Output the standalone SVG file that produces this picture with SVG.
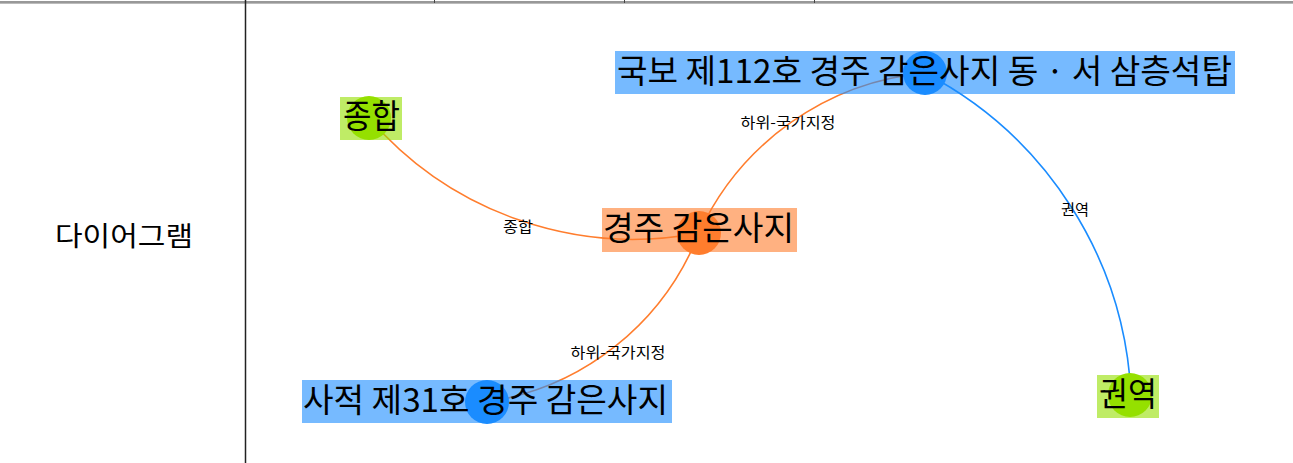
<svg xmlns="http://www.w3.org/2000/svg" width="1293" height="463" viewBox="0 0 1293 463">
<style>
.edge{fill:none;stroke-width:1.6}
.lbl{opacity:0.6}
.nt{font-family:"Noto Sans CJK KR","Noto Sans",sans-serif;font-size:33px;fill:#000}
.et{font-family:"Noto Sans CJK KR","Noto Sans",sans-serif;font-size:15px;fill:#000;text-anchor:middle}
.orange{fill:#ff7d2d}
.blue{fill:#1a8cff}
.green{fill:#95e000}
</style>
<rect x="0" y="0" width="1293" height="463" fill="#fff"/>
<g id="table">
<line x1="0" y1="2" x2="1293" y2="2" stroke="#333" stroke-width="1.2"/>
<line x1="0" y1="3.5" x2="1293" y2="3.5" stroke="#bbb" stroke-width="1"/>
<line x1="245.5" y1="0" x2="245.5" y2="463" stroke="#222" stroke-width="1.5"/>
<line x1="434.5" y1="0" x2="434.5" y2="3" stroke="#444" stroke-width="1"/>
<line x1="624.5" y1="0" x2="624.5" y2="3" stroke="#444" stroke-width="1"/>
<line x1="814.5" y1="0" x2="814.5" y2="3" stroke="#444" stroke-width="1"/>
<text x="124" y="246" font-family="Noto Sans CJK KR, sans-serif" font-size="27" text-anchor="middle" textLength="138" lengthAdjust="spacingAndGlyphs">다이어그램</text>
</g>
<g id="connectors">
<path class="edge" stroke="#ff7d2d" d="M699,233 A348.5,348.5 0 0,1 369,118"/>
<path class="edge" stroke="#ff7d2d" d="M699,233 A276.9,276.9 0 0,1 925,73"/>
<path class="edge" stroke="#ff7d2d" d="M699,233 A270.5,270.5 0 0,1 487,402"/>
<path class="edge" stroke="#1a8cff" d="M925,73 A383.5,383.5 0 0,1 1131,395"/>
<text class="et" x="518" y="232" textLength="30" lengthAdjust="spacingAndGlyphs">종합</text>
<text class="et" x="788" y="128" textLength="95" lengthAdjust="spacingAndGlyphs">하위-국가지정</text>
<text class="et" x="618" y="358" textLength="95" lengthAdjust="spacingAndGlyphs">하위-국가지정</text>
<text class="et" x="1075" y="215" textLength="28" lengthAdjust="spacingAndGlyphs">권역</text>
</g>
<g id="node-jonghap">
<rect class="lbl green" x="340" y="97" width="62" height="43"/>
<circle class="green" cx="369" cy="118" r="22"/>
<text class="nt" x="343" y="128" textLength="57" lengthAdjust="spacingAndGlyphs">종합</text>
</g>
<g id="node-gameunsaji">
<rect class="lbl orange" x="602" y="208" width="195" height="44"/>
<circle class="orange" cx="699" cy="233" r="22"/>
<text class="nt" x="603" y="240" textLength="191" lengthAdjust="spacingAndGlyphs">경주 감은사지</text>
</g>
<g id="node-gukbo">
<rect class="lbl blue" x="615" y="51" width="620" height="43"/>
<circle class="blue" cx="925" cy="73" r="22"/>
<text class="nt" x="617" y="83" textLength="615" lengthAdjust="spacingAndGlyphs">국보 제112호 경주 감은사지 동 · 서 삼층석탑</text>
</g>
<g id="node-sajeok">
<rect class="lbl blue" x="302" y="380" width="370" height="43"/>
<circle class="blue" cx="487" cy="402" r="22"/>
<text class="nt" x="303" y="412" textLength="365" lengthAdjust="spacingAndGlyphs">사적 제31호 경주 감은사지</text>
</g>
<g id="node-gwonyeok">
<rect class="lbl green" x="1097" y="375" width="62" height="43"/>
<circle class="green" cx="1130" cy="395" r="22"/>
<text class="nt" x="1099" y="406" textLength="58" lengthAdjust="spacingAndGlyphs">권역</text>
</g>
</svg>
